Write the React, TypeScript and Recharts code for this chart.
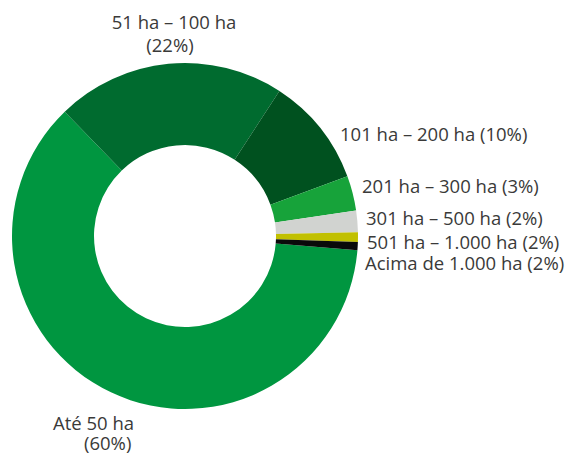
import React from 'react';
import { PieChart, Pie, Cell } from 'recharts';

const categories = [
  'Até 50 ha',
  '51 ha – 100 ha',
  '101 ha – 200 ha',
  '201 ha – 300 ha',
  '301 ha – 500 ha',
  '501 ha – 1.000 ha',
  'Acima de 1.000 ha',
];
const shares = [61.4, 21.4, 10.2, 3.25, 2.0, 0.9, 0.75];
const percentLabels = ['60%', '22%', '10%', '3%', '2%', '2%', '2%'];

const COLORS = ['#009640', '#006b2f', '#00511f', '#17a33a', '#d1d3d0', '#c1c000', '#0a0a0a'];

const data = categories.map((name, i) => ({ name, value: shares[i] }));

// label placement relative to the pie centre
const LABEL_LAYOUT: { lines: [number, number][]; anchor: 'start' | 'middle' }[] = [
  { lines: [[-132, 194], [-101, 214]], anchor: 'start' },
  { lines: [[-11, -207], [-15, -184]], anchor: 'middle' },
  { lines: [[155, -95]], anchor: 'start' },
  { lines: [[177, -43]], anchor: 'start' },
  { lines: [[181, -11]], anchor: 'start' },
  { lines: [[182, 13]], anchor: 'start' },
  { lines: [[180, 34]], anchor: 'start' },
];

const renderLabel = (props: any) => {
  const { cx, cy, index } = props;
  const layout = LABEL_LAYOUT[index];
  const pct = `(${percentLabels[index]})`;
  const texts =
    layout.lines.length === 2 ? [categories[index], pct] : [`${categories[index]} ${pct}`];
  return (
    <g key={`lbl-${index}`}>
      {texts.map((t, j) => (
        <text
          key={j}
          x={cx + layout.lines[j][0]}
          y={cy + layout.lines[j][1]}
          textAnchor={layout.anchor}
          fill="#3a3a39"
          fontSize={18.5}
          fontFamily="'Open Sans', sans-serif"
        >
          {t}
        </text>
      ))}
    </g>
  );
};

const App = () => (
  <div style={{ position: 'absolute', left: 0, top: 0, width: 573, height: 455, background: '#fff' }}>
    <PieChart width={573} height={455} margin={{ top: 0, right: 0, bottom: 0, left: 0 }}>
      <Pie
        data={data}
        dataKey="value"
        nameKey="name"
        cx={185}
        cy={236}
        innerRadius={91}
        outerRadius={173}
        startAngle={-4.7}
        endAngle={-364.7}
        stroke="none"
        label={renderLabel}
        labelLine={false}
        isAnimationActive={false}
      >
        {data.map((_, i) => (
          <Cell key={`cell-${i}`} fill={COLORS[i]} />
        ))}
      </Pie>
    </PieChart>
  </div>
);

export default App;
